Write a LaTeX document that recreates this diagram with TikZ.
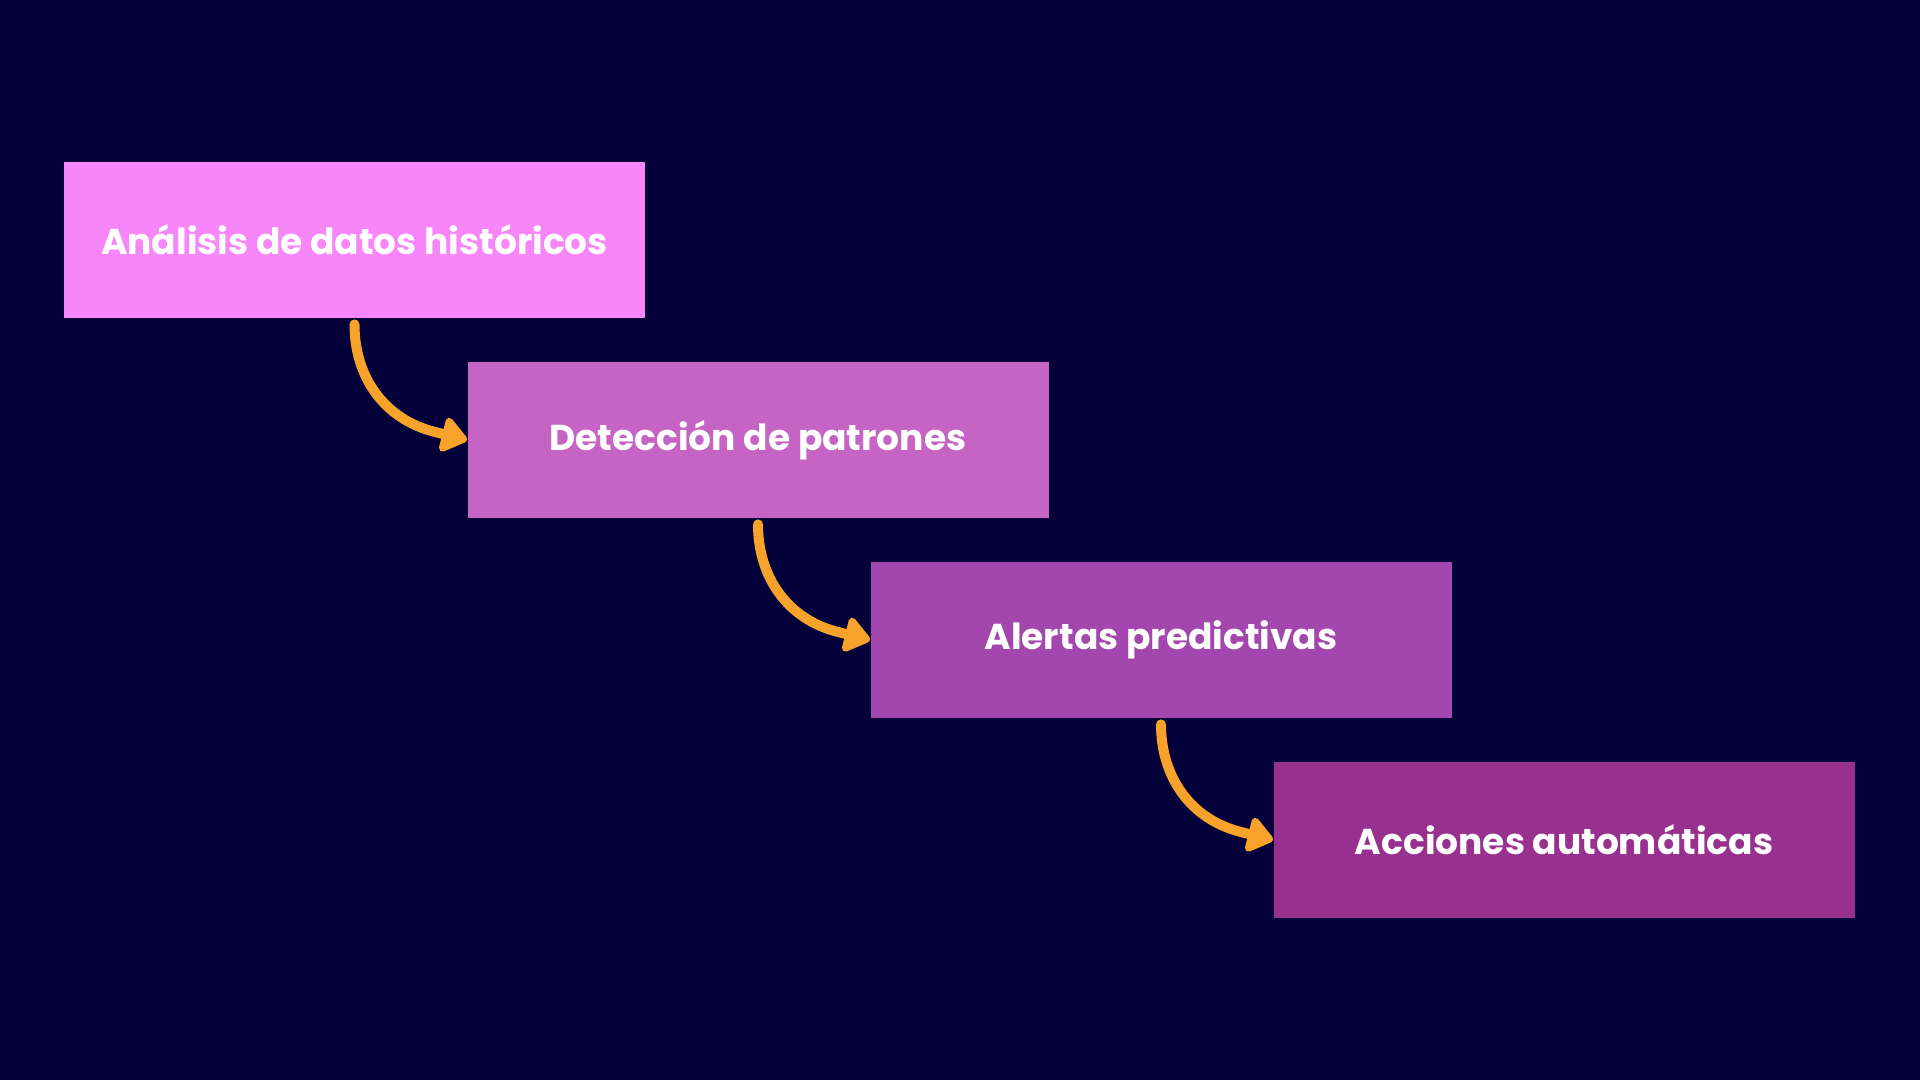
\documentclass[tikz,border=0pt]{standalone}
\usepackage{fontspec}
\setmainfont{Poppins}
\usepackage{xcolor}
\usepackage{tikz}
\usetikzlibrary{positioning,arrows.meta}

\definecolor{bgblue}{HTML}{03003A}
\definecolor{stepA}{HTML}{F786F8}
\definecolor{stepB}{HTML}{C564C4}
\definecolor{stepC}{HTML}{A346AD}
\definecolor{stepD}{HTML}{97308E}
\definecolor{flowor}{HTML}{F7A22A}

\tikzset{
    stepbox/.style={rectangle, minimum width=290.5pt, minimum height=78pt,
        inner sep=0pt, text=white, font=\fontsize{18}{21}\selectfont\bfseries},
    flow/.style={flowor, line width=5pt, line cap=round, line join=round,
        -{Triangle[length=14pt,width=20pt,round]}}
}

\begin{document}
\begin{tikzpicture}[x=0.5pt,y=-0.5pt]
    % Background
    \fill[bgblue] (0,0) rectangle (1920,1080);
    \useasboundingbox (0,0) rectangle (1920,1080);

    % Steps
    \node[stepbox, fill=stepA] (hist) at (354.5,240) {Análisis de datos históricos};
    \node[stepbox, fill=stepB] (patr) at (758,440) {Detección de patrones};
    \node[stepbox, fill=stepC] (alert) at (1161,640) {Alertas predictivas};
    \node[stepbox, fill=stepD] (acc) at (1564,840) {Acciones automáticas};

    % Arrows
    \draw[flow] ([yshift=-3pt]hist.south) to[out=-90,in=166]
        ([shift={(-16pt,4pt)}]patr.west) -- (patr.west);
    \draw[flow] ([yshift=-3pt]patr.south) to[out=-90,in=166]
        ([shift={(-16pt,4pt)}]alert.west) -- (alert.west);
    \draw[flow] ([yshift=-3pt]alert.south) to[out=-90,in=166]
        ([shift={(-16pt,4pt)}]acc.west) -- (acc.west);
\end{tikzpicture}
\end{document}
